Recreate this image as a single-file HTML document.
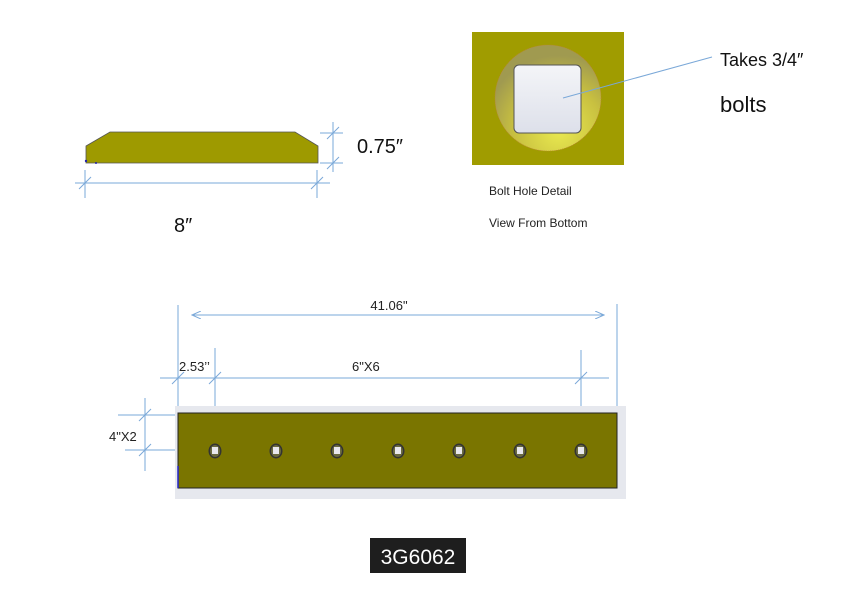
<!DOCTYPE html>
<html><head><meta charset="utf-8"><style>
html,body{margin:0;padding:0;background:#fff;}
svg{display:block}
text{font-family:"Liberation Sans",sans-serif;}
</style></head><body>
<svg width="849" height="600" viewBox="0 0 849 600" xmlns="http://www.w3.org/2000/svg">
<defs>
<radialGradient id="cg" cx="0.6" cy="0.8" r="0.7">
<stop offset="0" stop-color="#eaea50"/><stop offset="0.6" stop-color="#c8c040"/><stop offset="1" stop-color="#a09a50"/>
</radialGradient>
<linearGradient id="sq" x1="0" y1="0" x2="0" y2="1"><stop offset="0" stop-color="#f4f5f8"/><stop offset="1" stop-color="#dde0ea"/></linearGradient>
<marker id="ar" markerWidth="10" markerHeight="8" refX="9" refY="4" orient="auto-start-reverse" markerUnits="userSpaceOnUse">
<path d="M0,0 L9,4 L0,8" fill="none" stroke="#7aa8d8" stroke-width="1"/></marker>
</defs>
<!-- bolt detail -->
<rect x="472" y="32" width="152" height="133" fill="#a09c00"/>
<circle cx="548" cy="98" r="53" fill="url(#cg)" stroke="#c08040" stroke-width="0.6" stroke-dasharray="1 1"/>
<rect x="514" y="65" width="67" height="68" rx="5" fill="url(#sq)" stroke="#555" stroke-width="1"/>
<g stroke="#7aa8d8" stroke-width="1" fill="none">
<!-- side view dims -->
<line x1="333" y1="122" x2="333" y2="172"/>
<line x1="320" y1="133" x2="343" y2="133"/>
<line x1="320" y1="163" x2="343" y2="163"/>
<line x1="327" y1="139" x2="339" y2="127"/>
<line x1="327" y1="169" x2="339" y2="157"/>
<line x1="75" y1="183" x2="330" y2="183"/>
<line x1="85" y1="170" x2="85" y2="198"/>
<line x1="317" y1="170" x2="317" y2="198"/>
<line x1="79" y1="189" x2="91" y2="177"/>
<line x1="311" y1="189" x2="323" y2="177"/>
<!-- leader -->
<line x1="563" y1="98" x2="712" y2="57"/>
<!-- bottom dims -->
<line x1="178" y1="305" x2="178" y2="413"/>
<line x1="617" y1="304" x2="617" y2="411"/>
<line x1="192" y1="315" x2="604" y2="315" marker-start="url(#ar)" marker-end="url(#ar)"/>
<line x1="160" y1="378" x2="609" y2="378"/>
<line x1="215" y1="348" x2="215" y2="408"/>
<line x1="581" y1="350" x2="581" y2="408"/>
<line x1="172" y1="384" x2="184" y2="372"/>
<line x1="209" y1="384" x2="221" y2="372"/>
<line x1="575" y1="384" x2="587" y2="372"/>
<line x1="118" y1="415" x2="176" y2="415"/>
<line x1="125" y1="450" x2="176" y2="450"/>
<line x1="145" y1="398" x2="145" y2="471"/>
<line x1="139" y1="421" x2="151" y2="409"/>
<line x1="139" y1="456" x2="151" y2="444"/>
</g>
<!-- side view -->
<polygon points="86,146 110,132 295,132 318,146 318,163 86,163" fill="#9e9a00" stroke="#555" stroke-width="0.8"/>
<circle cx="86" cy="161" r="1.2" fill="#22a"/><circle cx="96" cy="163" r="1" fill="#22a"/>
<text x="357" y="153" font-size="20" fill="#111">0.75″</text>
<text x="174" y="232" font-size="20" fill="#111">8″</text>
<text x="720" y="66" font-size="18" fill="#111">Takes 3/4″</text>
<text x="720" y="112" font-size="22" fill="#111">bolts</text>
<text x="489" y="195" font-size="12" fill="#222">Bolt Hole Detail</text>
<text x="489" y="227" font-size="12" fill="#222">View From Bottom</text>
<!-- bottom plate -->
<rect x="175" y="406" width="451" height="93" fill="#e6e8ee"/>
<rect x="178" y="413" width="439" height="75" fill="#7a7500" stroke="#222" stroke-width="1"/>
<line x1="178" y1="466" x2="178" y2="488" stroke="#22c" stroke-width="1.5"/>
<g>
<g transform="translate(215,451)"><ellipse rx="6.5" ry="7.5" fill="#333"/><ellipse rx="5" ry="6" fill="#6a6a40"/><rect x="-3" y="-4" width="6" height="7" fill="#e8e8ee"/></g>
<g transform="translate(276,451)"><ellipse rx="6.5" ry="7.5" fill="#333"/><ellipse rx="5" ry="6" fill="#6a6a40"/><rect x="-3" y="-4" width="6" height="7" fill="#e8e8ee"/></g>
<g transform="translate(337,451)"><ellipse rx="6.5" ry="7.5" fill="#333"/><ellipse rx="5" ry="6" fill="#6a6a40"/><rect x="-3" y="-4" width="6" height="7" fill="#e8e8ee"/></g>
<g transform="translate(398,451)"><ellipse rx="6.5" ry="7.5" fill="#333"/><ellipse rx="5" ry="6" fill="#6a6a40"/><rect x="-3" y="-4" width="6" height="7" fill="#e8e8ee"/></g>
<g transform="translate(459,451)"><ellipse rx="6.5" ry="7.5" fill="#333"/><ellipse rx="5" ry="6" fill="#6a6a40"/><rect x="-3" y="-4" width="6" height="7" fill="#e8e8ee"/></g>
<g transform="translate(520,451)"><ellipse rx="6.5" ry="7.5" fill="#333"/><ellipse rx="5" ry="6" fill="#6a6a40"/><rect x="-3" y="-4" width="6" height="7" fill="#e8e8ee"/></g>
<g transform="translate(581,451)"><ellipse rx="6.5" ry="7.5" fill="#333"/><ellipse rx="5" ry="6" fill="#6a6a40"/><rect x="-3" y="-4" width="6" height="7" fill="#e8e8ee"/></g>
</g>
<text x="389" y="310" font-size="13" fill="#222" text-anchor="middle">41.06"</text>
<text x="179" y="371" font-size="13" fill="#222">2.53’’</text>
<text x="352" y="371" font-size="13" fill="#222">6"X6</text>
<text x="109" y="441" font-size="13" fill="#222">4"X2</text>
<rect x="370" y="538" width="96" height="35" fill="#1e1e1e"/>
<text x="418" y="564" font-size="21" fill="#fff" text-anchor="middle">3G6062</text>
</svg>
</body></html>
